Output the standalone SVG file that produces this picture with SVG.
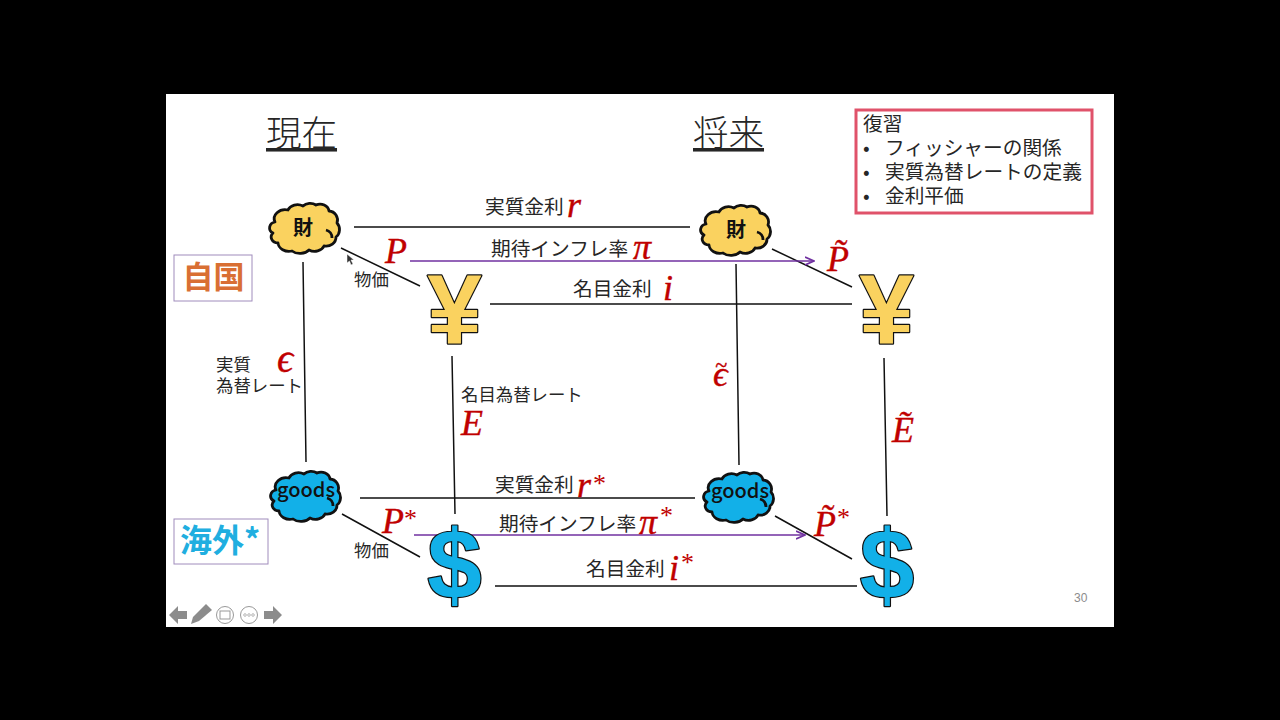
<svg xmlns="http://www.w3.org/2000/svg" width="1280" height="720" viewBox="0 0 1280 720">
<style>
text{font-family:"Noto Sans CJK JP","Liberation Sans",sans-serif;fill:#262626}
.l{font-size:19.700px}.s{font-size:17.400px}
.h{font-size:35.500px;text-decoration:underline;font-weight:300}
.m{font-family:"Liberation Serif",serif;font-style:italic;fill:#c00000;font-size:36px;stroke:#c00000;stroke-width:.4}
.e{font-size:40px}
.st{font-family:"Liberation Serif",serif;font-style:normal;fill:#c00000;font-size:26px}
.n{font-weight:700;fill:#111;text-anchor:middle}
.gd{font-size:20px;font-weight:500}
.c{stroke:#111;stroke-width:1.5;fill:none}
.p{stroke:#7030a0;stroke-width:1.5;fill:none}
.y{fill:#fad25f;stroke:#111;stroke-width:2.800;stroke-linejoin:round}
.b{fill:#12b0e8;stroke:#111;stroke-width:2.800;stroke-linejoin:round}
.yt{font-family:"Liberation Sans",sans-serif;font-weight:700;text-anchor:middle;font-size:98px;fill:#fad25f;stroke:#111;stroke-width:2.400;stroke-linejoin:round;paint-order:stroke}
.dt{font-family:"Liberation Sans",sans-serif;font-weight:700;text-anchor:middle;font-size:98px;fill:#12b0e8;stroke:#111;stroke-width:2.400;stroke-linejoin:round;paint-order:stroke}
.g{fill:#8c8c8c}
</style>
<defs>
<g id="cl"><path d="M-29,-7a11,9 0 0 1 13,-12a10,8 0 0 1 15,-4a9,7 0 0 1 13,-1a9,8 0 0 1 13,6a9,9 0 0 1 8,12a8,9 0 0 1 -1,14a10,9 0 0 1 -12,9a10,8 0 0 1 -15,4a11,8 0 0 1 -17,1a11,9 0 0 1 -14,-8a7,6 0 0 1 -5,-10a7,6 0 0 1 2,-11z"/><path fill="none" d="M22,1a8,8 0 0 1 6,8"/></g>
<marker id="ah" viewBox="0 0 10 10" refX="9" refY="5" markerWidth="10" markerHeight="10" markerUnits="userSpaceOnUse" orient="auto"><path d="M0,1L9,5L0,9" fill="none" stroke="#7030a0" stroke-width="1.600"/></marker>
</defs>
<rect width="1280" height="720" fill="#000"/>
<rect x="166" y="94" width="948" height="533" fill="#fff"/>
<g id="connectors">
<path class="c" d="M354,227H690M341,248L420,286M490,304H852M772,249L852,287M303,262L306,462M452,356L455,514M736,264L739,465M884,358L887,516M360,498H695M342,514L420,557M495,586H857M775,516L852,559"/>
<path class="p" marker-end="url(#ah)" d="M410,261H814"/>
<path class="p" marker-end="url(#ah)" d="M414,535H805"/>
</g>
<g id="head-now"><text class="h" x="266" y="146">現在</text></g>
<g id="head-future"><text class="h" x="693" y="146">将来</text></g>
<g id="review">
<rect x="856" y="110" width="236" height="103" fill="#fff" stroke="#e0526a" stroke-width="3"/>
<text class="l" x="863" y="131">復習</text>
<text class="l" x="863" y="155">•</text><text class="l" x="885" y="155">フィッシャーの関係</text>
<text class="l" x="863" y="179">•</text><text class="l" x="885" y="179">実質為替レートの定義</text>
<text class="l" x="863" y="203">•</text><text class="l" x="885" y="203">金利平価</text>
</g>
<g id="home"><rect x="174" y="255" width="78" height="46" fill="#fff" stroke="#a08cbc"/><text x="213.500" y="288" text-anchor="middle" font-size="31" font-weight="700" style="fill:#d96f33">自国</text></g>
<g id="foreign"><rect x="174" y="519" width="94" height="45" fill="#fff" stroke="#a08cbc"/><text x="220" y="552" text-anchor="middle" font-size="32" font-weight="700" style="fill:#20aee0">海外*</text></g>
<g id="goods-home-now"><use href="#cl" transform="translate(304,229)" class="y"/><text class="n" x="303" y="235" font-size="20">財</text></g>
<g id="goods-home-future"><use href="#cl" transform="translate(735,231)" class="y"/><text class="n" x="736" y="237" font-size="20">財</text></g>
<g id="goods-foreign-now"><use href="#cl" transform="translate(305,497)" class="b"/><text class="n gd" x="306" y="497">goods</text></g>
<g id="goods-foreign-future"><use href="#cl" transform="translate(738,498)" class="b"/><text class="n gd" x="740" y="498">goods</text></g>
<g id="yen-now"><text x="454.500" y="343" class="yt">¥</text></g>
<g id="yen-future"><text x="886.500" y="343" class="yt">¥</text></g>
<g id="dollar-now"><text x="454.500" y="599" class="dt">$</text></g>
<g id="dollar-future"><text x="887" y="599" class="dt">$</text></g>
<g id="labels">
<text class="l" x="485" y="214">実質金利</text><text class="m" x="567" y="217">r</text>
<text class="l" x="491" y="256">期待インフレ率</text><text class="m" x="633" y="259">π</text>
<text class="l" x="573" y="296">名目金利</text><text class="m" x="663" y="300">i</text>
<text class="m" x="385" y="263">P</text>
<text class="s" x="354" y="286">物価</text>
<text class="s" x="216" y="371">実質</text><text class="m e" x="277" y="372">ϵ</text>
<text class="s" x="216" y="392">為替レート</text>
<text class="s" x="461" y="401">名目為替レート</text><text class="m" x="461" y="435">E</text>
<text class="m" x="713" y="386">ϵ</text><text class="m" x="715" y="372" style="font-size:22px">~</text>
<text class="m" x="827" y="271">P̃</text>
<text class="m" x="892" y="442">Ẽ</text>
<text class="l" x="495" y="492">実質金利</text><text class="m" x="577" y="497">r</text><text class="st" x="593" y="492">*</text>
<text class="l" x="499" y="531">期待インフレ率</text><text class="m" x="639" y="534">π</text><text class="st" x="660" y="524">*</text>
<text class="l" x="586" y="576">名目金利</text><text class="m" x="669" y="580">i</text><text class="st" x="681" y="571">*</text>
<text class="m" x="382" y="533">P</text><text class="st" x="404" y="527">*</text>
<text class="s" x="354" y="557">物価</text>
<text class="m" x="814" y="536">P̃</text><text class="st" x="837" y="526">*</text>
<text x="1074" y="602" font-size="12" style="font-family:'Liberation Sans',sans-serif;fill:#8c8c8c">30</text>
</g>
<g id="cursor"><path d="M347,254L347,263L349.500,261L351,265L353,264L351,260L354,260z" fill="#333" stroke="#fff" stroke-width=".5"/></g>
<g id="nav">
<path class="g" d="M169,615L178,606V611H187V619H178V624z"/>
<path class="g" d="M191,624L193,617L206,604L212,610L199,621z"/>
<circle cx="225" cy="615" r="8.500" fill="#fff" stroke="#999"/><rect x="220" y="611" width="10" height="8" fill="none" stroke="#999"/>
<circle cx="249" cy="615" r="8.500" fill="#fff" stroke="#999"/><circle cx="245" cy="615" r="1.300" fill="none" stroke="#999" stroke-width=".7"/><circle cx="249" cy="615" r="1.300" fill="none" stroke="#999" stroke-width=".7"/><circle cx="253" cy="615" r="1.300" fill="none" stroke="#999" stroke-width=".7"/>
<path class="g" d="M282,615L273,606V611H264V619H273V624z"/>
</g>
</svg>
